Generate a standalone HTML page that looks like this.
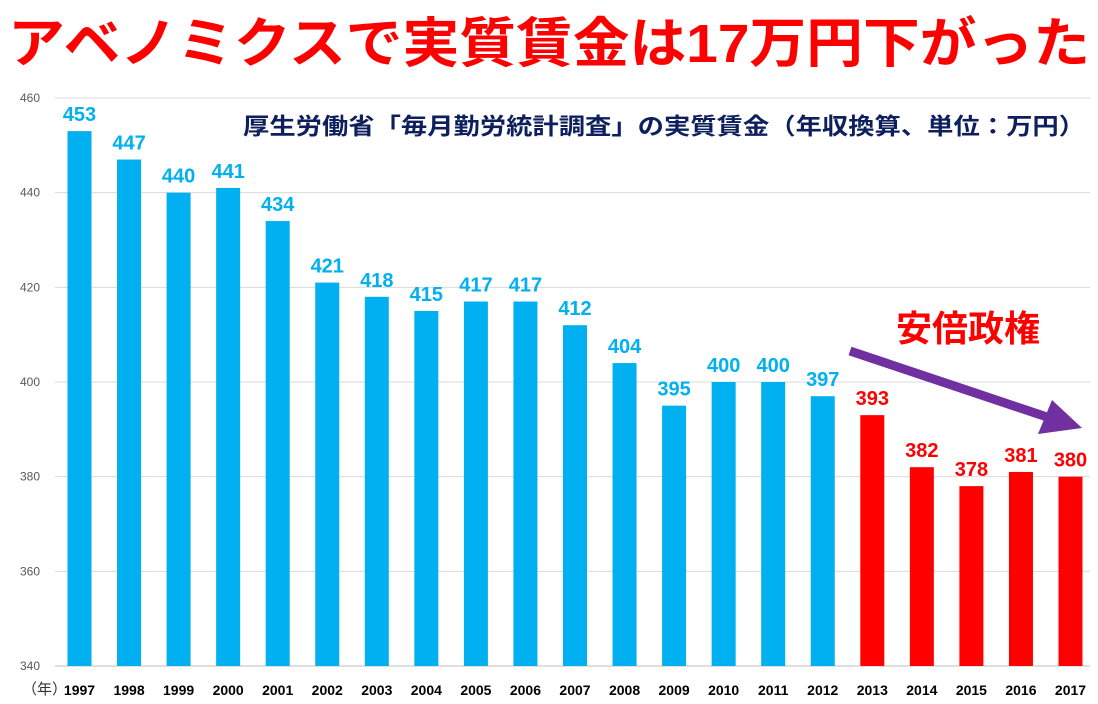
<!DOCTYPE html>
<html><head><meta charset="utf-8"><style>
body{margin:0;width:1098px;height:704px;background:#fff;overflow:hidden;font-family:"Liberation Sans","Noto Sans CJK JP",sans-serif}
</style></head><body>
<svg id="c" width="1098" height="704" style="position:absolute;left:0;top:0">
<text x="8" y="62" textLength="1082" lengthAdjust="spacingAndGlyphs" font-size="54" font-weight="bold" fill="#f00" font-family="Liberation Sans,Noto Sans CJK JP,sans-serif">アベノミクスで実質賃金は17万円下がった</text>
<text x="243" y="134" textLength="842" lengthAdjust="spacingAndGlyphs" font-size="23" font-weight="bold" fill="#0d1f5c" font-family="Liberation Sans,Noto Sans CJK JP,sans-serif">厚生労働省「毎月勤労統計調査」の実質賃金（年収換算、単位：万円）</text>
<text x="968" y="341" text-anchor="middle" font-size="36" font-weight="bold" fill="#f00" font-family="Liberation Sans,Noto Sans CJK JP,sans-serif">安倍政権</text>
<g id="grid"></g><g id="bars"></g>
<line x1="850" y1="351" x2="1050" y2="418" stroke="#7030a0" stroke-width="9"/>
<polygon points="1082,428 1038,434 1052,400" fill="#7030a0"/>
<text x="22" y="694" font-size="15" fill="#333" font-family="Liberation Sans,Noto Sans CJK JP,sans-serif">（年）</text>
</svg>
<script>
const years=["1997","1998","1999","2000","2001","2002","2003","2004","2005","2006","2007","2008","2009","2010","2011","2012","2013","2014","2015","2016","2017"];
const values=[453,447,440,441,434,421,418,415,417,417,412,404,395,400,400,397,393,382,378,381,380];
const ticks=[340,360,380,400,420,440,460];
const abeStart=2013;
const NS="http://www.w3.org/2000/svg";
const y=v=>666-(v-340)*(568/120);
const x=i=>79.5+i*49.55;
const g=document.getElementById('grid'),b=document.getElementById('bars');
function mk(t,a,p){const e=document.createElementNS(NS,t);for(const k in a)e.setAttribute(k,a[k]);p.appendChild(e);return e;}
ticks.forEach(t=>{
 const l=mk('line',{x1:55,x2:1090,y1:y(t),y2:y(t),stroke:t===340?'#bfbfbf':'#d9d9d9','stroke-width':1},g);
 
 
 const tx=mk('text',{x:40,y:y(t)+4,'text-anchor':'end','font-size':12,fill:'#595959'},g);tx.textContent=t;
 
 
});
years.forEach((yr,i)=>{
 const v=values[i],col=(+yr>=abeStart)?'#ff0000':'#00b0f0';
 const r=mk('rect',{x:x(i)-12,y:y(v),width:24,height:666-y(v),fill:col},b);
 
 
 const l=mk('text',{x:x(i),y:y(v)-10,'text-anchor':'middle','font-size':20,'font-weight':'bold',fill:col},b);l.textContent=v;
 
 
 const xl=mk('text',{x:x(i),y:695,'text-anchor':'middle','font-size':14,'font-weight':'bold',fill:'#000'},b);xl.textContent=yr;
 
 
});
</script>
</body></html>
